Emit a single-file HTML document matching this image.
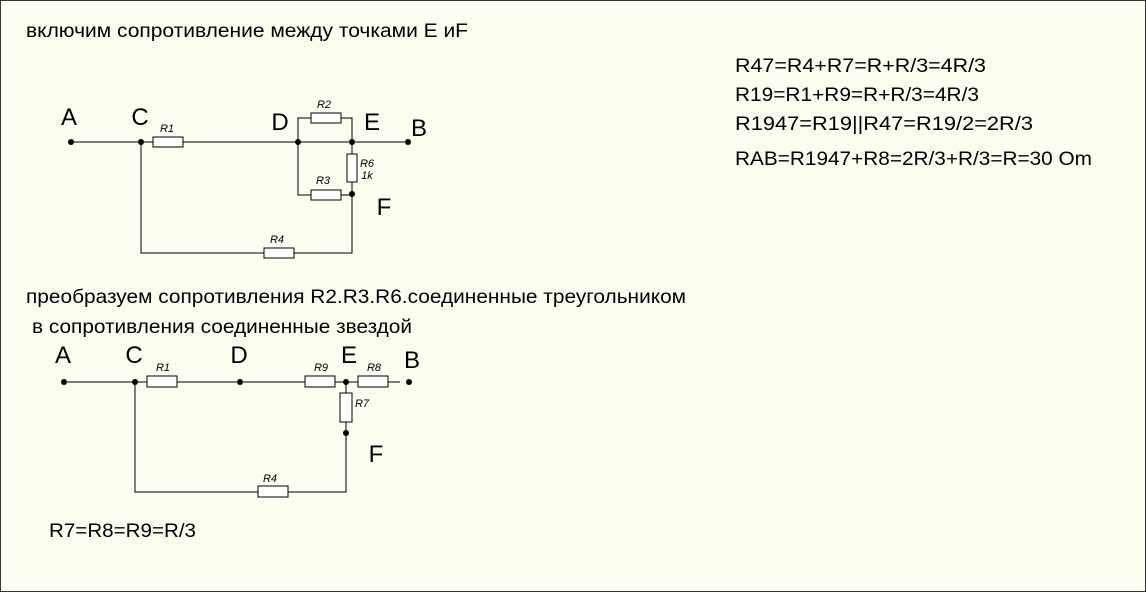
<!DOCTYPE html>
<html><head><meta charset="utf-8"><style>
html,body{margin:0;padding:0;background:#fcfcf0}
svg{display:block}
text{font-family:"Liberation Sans",Arial,sans-serif;fill:#000}
.b{font-size:19px}
.s{font-size:11px;font-style:italic}
.L{font-size:24px}
</style></head><body>
<svg width="1146" height="592" viewBox="0 0 1146 592" xmlns="http://www.w3.org/2000/svg">
<rect x="0.5" y="0.5" width="1145" height="591" fill="#fcfcf0" stroke="#333" stroke-width="1"/>
<text class="b" x="26" y="37" textLength="442" lengthAdjust="spacingAndGlyphs">включим сопротивление между точками E иF</text>
<text class="b" x="735" y="72" textLength="251" lengthAdjust="spacingAndGlyphs">R47=R4+R7=R+R/3=4R/3</text>
<text class="b" x="735" y="101" textLength="244" lengthAdjust="spacingAndGlyphs">R19=R1+R9=R+R/3=4R/3</text>
<text class="b" x="735" y="130" textLength="298" lengthAdjust="spacingAndGlyphs">R1947=R19||R47=R19/2=2R/3</text>
<text class="b" x="735" y="165" textLength="357" lengthAdjust="spacingAndGlyphs">RAB=R1947+R8=2R/3+R/3=R=30 Om</text>
<text class="b" x="26" y="303" textLength="660" lengthAdjust="spacingAndGlyphs">преобразуем сопротивления R2.R3.R6.соединенные треугольником</text>
<text class="b" x="32" y="333" textLength="380" lengthAdjust="spacingAndGlyphs">в сопротивления соединенные звездой</text>
<text class="b" x="49" y="537" textLength="147" lengthAdjust="spacingAndGlyphs">R7=R8=R9=R/3</text>

<g stroke="#000" stroke-width="1" fill="none">
<path d="M71 142H153M183 142H352H408M298 142V118H311M341 118H352V154M352 182V253H294M264 253H141V142M298 142V195H311M341 195H352"/>
<g fill="#fff">
<rect x="153" y="137" width="30" height="10"/>
<rect x="311" y="113" width="30" height="10"/>
<rect x="311" y="190" width="30" height="10"/>
<rect x="347" y="154" width="10" height="28"/>
<rect x="264" y="248" width="30" height="10"/>
</g>
<path d="M64 382H147M177 382H305M335 382H358M388 382H400M346 382V393M346 422V492H288M258 492H135V382"/>
<g fill="#fff">
<rect x="147" y="376" width="30" height="11"/>
<rect x="305" y="376" width="30" height="11"/>
<rect x="358" y="376" width="30" height="11"/>
<rect x="340" y="393" width="12" height="29"/>
<rect x="258" y="486" width="30" height="11"/>
</g>
</g>
<g fill="#000">
<circle cx="71" cy="142" r="3"/><circle cx="141" cy="142" r="3"/><circle cx="298" cy="142" r="3"/>
<circle cx="352" cy="142" r="3"/><circle cx="408" cy="142" r="3"/><circle cx="352" cy="194" r="3"/>
<circle cx="64" cy="382" r="3"/><circle cx="135" cy="382" r="3"/><circle cx="240" cy="382" r="3"/>
<circle cx="346" cy="382" r="3"/><circle cx="409" cy="382" r="3"/><circle cx="346" cy="433" r="3"/>
</g>
<g class="L" text-anchor="middle">
<text x="69" y="125">A</text><text x="140" y="125">C</text><text x="280" y="130">D</text>
<text x="372" y="130">E</text><text x="419" y="136">B</text><text x="384" y="215">F</text>
<text x="63" y="363">A</text><text x="134" y="363">C</text><text x="239" y="363">D</text>
<text x="349" y="363">E</text><text x="412" y="368">B</text><text x="376" y="462">F</text>
</g>
<g class="s" text-anchor="middle">
<text x="167" y="132">R1</text><text x="324" y="108">R2</text><text x="323" y="184">R3</text>
<text x="277" y="243">R4</text><text x="367" y="167">R6</text><text x="367" y="179">1k</text>
<text x="163" y="371">R1</text><text x="321" y="371">R9</text><text x="374" y="371">R8</text>
<text x="362" y="407">R7</text><text x="270" y="482">R4</text>
</g>
</svg>
</body></html>
